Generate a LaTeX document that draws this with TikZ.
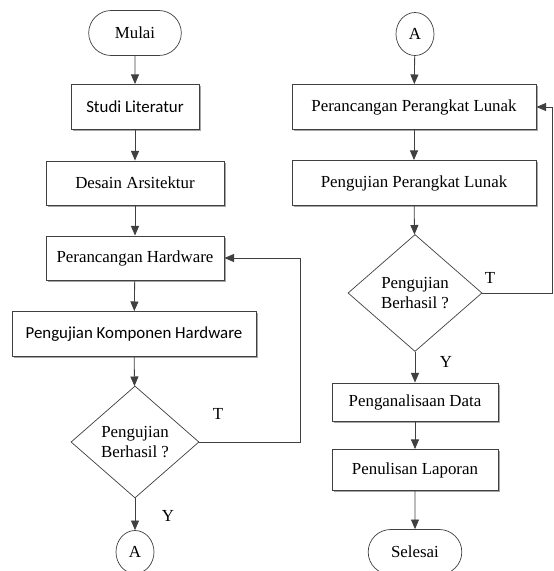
\documentclass[tikz,border=0pt]{standalone}
\usepackage{fontspec}
\setmainfont{Liberation Serif}
\newfontfamily\timesfont{Liberation Serif}
\newfontfamily\calfont{Carlito}
\usetikzlibrary{shapes.geometric,shapes.misc,shadows,arrows.meta}
\begin{document}
\begin{tikzpicture}[
  line/.style={draw=black!75, line width=0.6pt},
  arr/.style={line, -{Triangle[length=2.4mm,width=2mm]}},
  proc/.style={rectangle, draw=black!75, line width=0.6pt, fill=white, font=\timesfont\fontsize{12}{14}\selectfont,
    drop shadow={shadow xshift=1.3pt, shadow yshift=-1.3pt, fill=black!35, opacity=1}},
  term/.style={rounded rectangle, draw=black!75, line width=0.5pt, fill=white, font=\timesfont\fontsize{12}{14}\selectfont},
  dec/.style={diamond, draw=black!75, line width=0.5pt, fill=white, aspect=1.15, inner sep=0pt, align=center,
    font=\timesfont\fontsize{12}{14}\selectfont},
  con/.style={ellipse, draw=black!75, line width=0.5pt, fill=white, minimum width=0.95cm, minimum height=1.075cm,
    inner sep=0pt, font=\timesfont\fontsize{12}{14}\selectfont},
  lbl/.style={font=\timesfont\fontsize{12}{14}\selectfont}
]
\useasboundingbox (0,0) rectangle (13.85,-14.275);
\clip (0,0) rectangle (13.85,-14.275);
% kolom kiri
\node[term, minimum width=2.55cm, minimum height=1.125cm] (mulai) at (3.375,-0.825) {Mulai};
\node[proc, minimum width=3.2cm, minimum height=1.125cm, font=\calfont\fontsize{12}{14}\selectfont] (studi) at (3.375,-2.675) {Studi Literatur};
\node[proc, minimum width=4.45cm, minimum height=1.1cm] (desain) at (3.375,-4.575) {Desain Arsitektur};
\node[proc, minimum width=4.45cm, minimum height=1.1cm] (hw) at (3.375,-6.45) {Perancangan Hardware};
\node[proc, minimum width=6.1cm, minimum height=1.125cm, font=\calfont\fontsize{12}{14}\selectfont] (ujihw) at (3.35,-8.35) {Pengujian Komponen Hardware};
\node[dec, minimum width=3.2cm, minimum height=2.8cm] (cek1) at (3.375,-11.05) {Pengujian\\Berhasil ?};
\node[con] (a1) at (3.375,-13.8) {A};
\coordinate (k1) at (7.5,-11.05);
\coordinate (k2) at (7.5,-6.45);
\node[lbl] (t1) at (5.45,-10.35) {T};
\node[lbl] (y1) at (4.2,-12.9) {Y};
% kolom kanan
\node[con] (a2) at (10.375,-0.85) {A};
\node[proc, minimum width=6.1cm, minimum height=1.125cm] (ppl) at (10.35,-2.675) {Perancangan Perangkat Lunak};
\node[proc, minimum width=6.1cm, minimum height=1.125cm] (upl) at (10.35,-4.575) {Pengujian Perangkat Lunak};
\node[dec, minimum width=3.35cm, minimum height=2.925cm] (cek2) at (10.375,-7.325) {Pengujian\\Berhasil ?};
\node[proc, minimum width=4.15cm, minimum height=0.95cm] (data) at (10.375,-10.05) {Penganalisaan Data};
\node[proc, minimum width=4.15cm, minimum height=1.025cm] (lapor) at (10.375,-11.75) {Penulisan Laporan};
\node[term, minimum width=2.575cm, minimum height=1.125cm] (selesai) at (10.375,-13.8) {Selesai};
\coordinate (k3) at (13.82,-7.325);
\coordinate (k4) at (13.82,-2.675);
\node[lbl] (t2) at (12.25,-6.95) {T};
\node[lbl] (y2) at (11.15,-9.05) {Y};
% panah
\draw[arr] (mulai) -- (studi);
\draw[arr] (studi) -- (desain);
\draw[arr] (desain) -- (hw);
\draw[arr] (hw) -- (ujihw);
\draw[arr] (ujihw) -- (cek1);
\draw[arr] (cek1) -- (a1);
\draw[arr] (cek1.east) -- (k1) -- (k2) -- (hw.east);
\draw[arr] (a2) -- (ppl);
\draw[arr] (ppl) -- (upl);
\draw[arr] (upl) -- (cek2);
\draw[arr] (cek2) -- (data);
\draw[arr] (data) -- (lapor);
\draw[arr] (lapor) -- (selesai);
\draw[arr] (cek2.east) -- (k3) -- (k4) -- (ppl.east);
\end{tikzpicture}
\end{document}
